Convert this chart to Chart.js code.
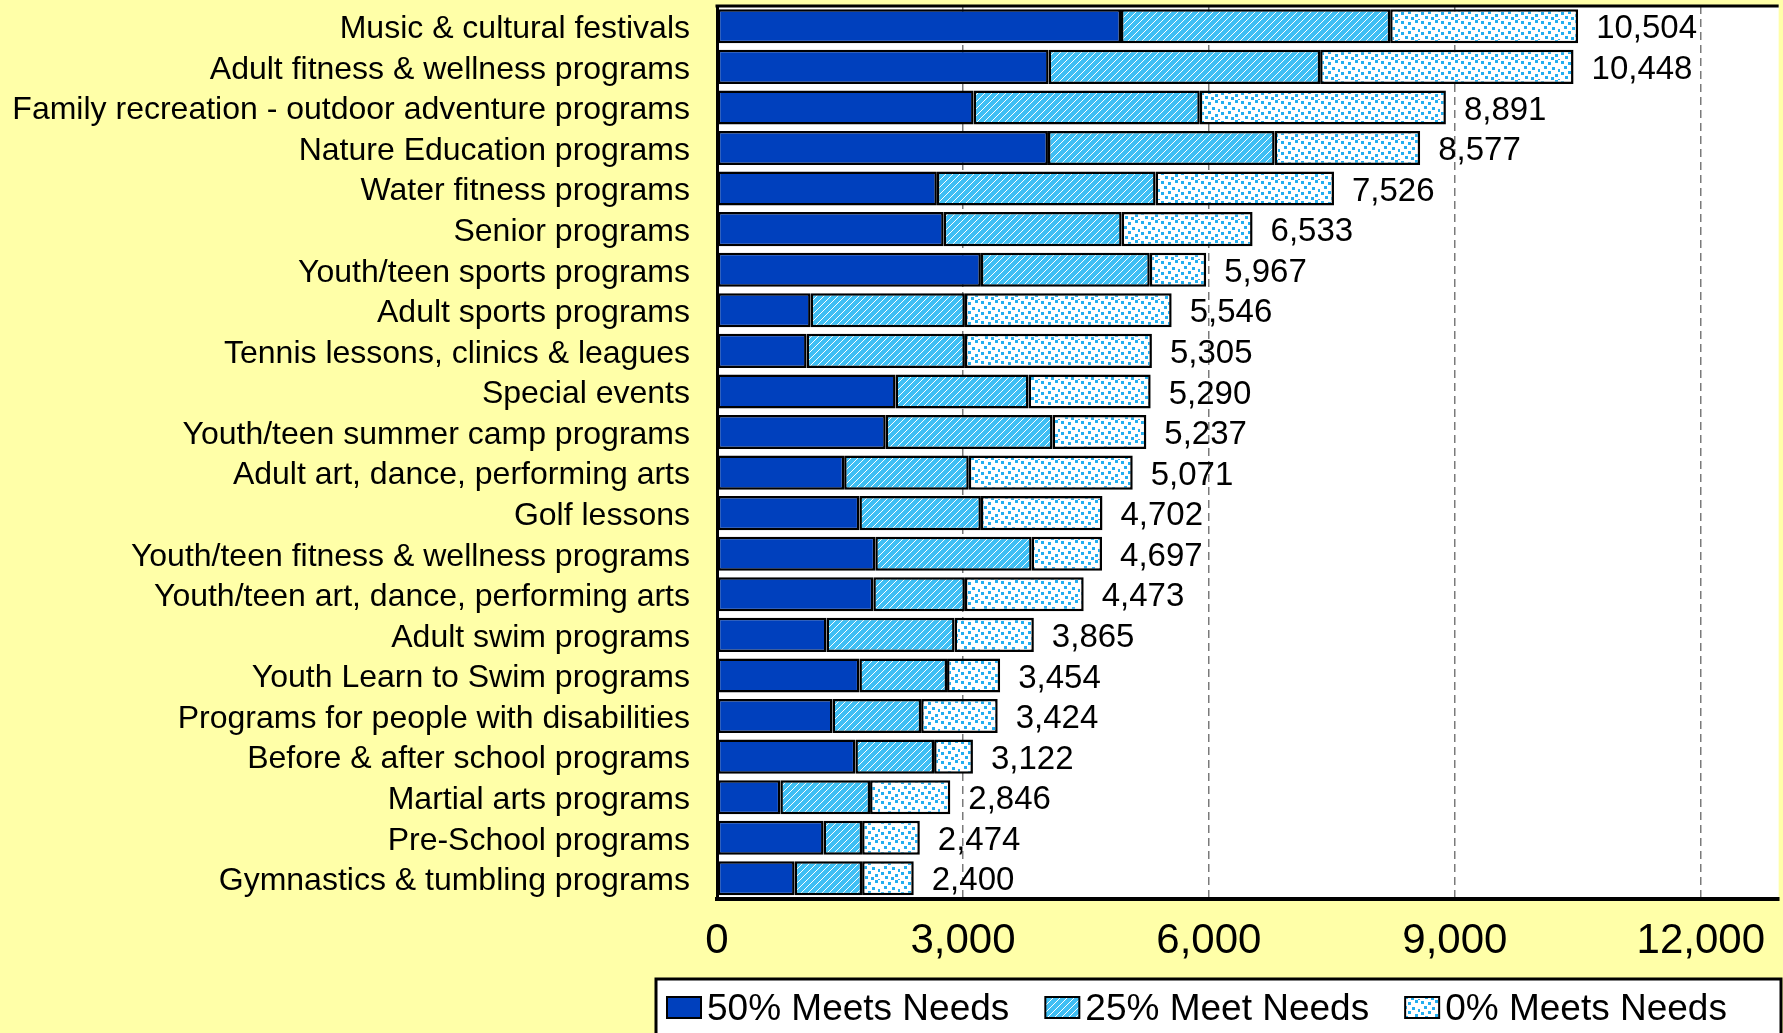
<!DOCTYPE html>
<html>
<head>
<meta charset="utf-8">
<script src="https://cdn.jsdelivr.net/npm/chart.js@4.4.1/dist/chart.umd.min.js"></script>
<style>
    html, body { margin: 0; padding: 0; background: #ffffa8; }
    #wrap { width: 1783px; height: 1033px; }
</style>
</head>
<body>
<div id="wrap"><canvas id="programChart"></canvas></div>
<script>
const programs = [
    'Music & cultural festivals',
    'Adult fitness & wellness programs',
    'Family recreation - outdoor adventure programs',
    'Nature Education programs',
    'Water fitness programs',
    'Senior programs',
    'Youth/teen sports programs',
    'Adult sports programs',
    'Tennis lessons, clinics & leagues',
    'Special events',
    'Youth/teen summer camp programs',
    'Adult art, dance, performing arts',
    'Golf lessons',
    'Youth/teen fitness & wellness programs',
    'Youth/teen art, dance, performing arts',
    'Adult swim programs',
    'Youth Learn to Swim programs',
    'Programs for people with disabilities',
    'Before & after school programs',
    'Martial arts programs',
    'Pre-School programs',
    'Gymnastics & tumbling programs'
];

const meets50 = [4928, 4045, 3130, 4037, 2682, 2765, 3219, 1142, 1093, 2178, 2058,
                 1551, 1737, 1931, 1907, 1336, 1737, 1409, 1688, 773, 1300, 947];
const meet25 = [3283, 3312, 2759, 2765, 2668, 2171, 2060, 1882, 1931, 1622, 2035,
                1520, 1482, 1907, 1117, 1562, 1069, 1081, 960, 1094, 470, 823];
const meets0 = [2293, 3091, 3002, 1775, 2176, 1597, 688, 2522, 2281, 1490, 1144,
                2000, 1483, 859, 1449, 967, 648, 934, 474, 979, 704, 630];
const totals = [10504, 10448, 8891, 8577, 7526, 6533, 5967, 5546, 5305, 5290, 5237,
                5071, 4702, 4697, 4473, 3865, 3454, 3424, 3122, 2846, 2474, 2400];

const xTicks = [0, 3000, 6000, 9000, 12000];
const seriesNames = ['50% Meets Needs', '25% Meet Needs', '0% Meets Needs'];

const fontFamily = '"Liberation Sans", Arial, sans-serif';
const darkBlue = '#0040bd';
const lightBlue = '#3fbff4';

function makeHatch() {
    const c = document.createElement('canvas');
    c.width = 7;
    c.height = 7;
    const g = c.getContext('2d');
    g.fillStyle = lightBlue;
    g.fillRect(0, 0, 7, 7);
    g.strokeStyle = '#ffffff';
    g.lineWidth = 1;
    g.beginPath();
    g.moveTo(0, 7); g.lineTo(7, 0);
    g.moveTo(-7, 7); g.lineTo(7, -7);
    g.moveTo(0, 14); g.lineTo(14, 0);
    g.stroke();
    return g.createPattern(c, 'repeat');
}

function makeDots() {
    const c = document.createElement('canvas');
    c.width = 20;
    c.height = 20;
    const g = c.getContext('2d');
    g.fillStyle = '#ffffff';
    g.fillRect(0, 0, 20, 20);
    g.fillStyle = '#22aef0';
    const spots = [[1, 1], [8, 2], [15, 0], [4, 6], [12, 7], [18, 9],
                   [1, 12], [8, 11], [15, 14], [5, 16], [11, 17], [18, 19]];
    spots.forEach(([x, y]) => g.fillRect(x, y, 3, 3));
    return g.createPattern(c, 'repeat');
}

const hatchFill = makeHatch();
const dotFill = makeDots();
const fills = [darkBlue, hatchFill, dotFill];

// white plot box with a black frame
const plotBox = {
    id: 'plotBox',
    beforeDraw(chart) {
        const { ctx, chartArea: a } = chart;
        ctx.save();
        ctx.fillStyle = '#ffffff';
        ctx.fillRect(a.left, a.top, a.right - a.left, a.bottom - a.top);
        ctx.restore();
    },
    afterDraw(chart) {
        const { ctx, chartArea: a } = chart;
        ctx.save();
        ctx.strokeStyle = '#000000';
        ctx.lineWidth = 3;
        ctx.beginPath();
        ctx.moveTo(a.left - 1.5, a.top);
        ctx.lineTo(a.right, a.top);
        ctx.stroke();
        ctx.restore();
    }
};

// total value next to each bar
const totalLabels = {
    id: 'totalLabels',
    afterDatasetsDraw(chart) {
        const { ctx } = chart;
        const xScale = chart.scales.x;
        const meta = chart.getDatasetMeta(chart.data.datasets.length - 1);
        ctx.save();
        ctx.font = '33px ' + fontFamily;
        ctx.fillStyle = '#000000';
        ctx.textAlign = 'left';
        ctx.textBaseline = 'middle';
        totals.forEach((t, i) => {
            const x = xScale.getPixelForValue(t) + 18;
            ctx.fillText(t.toLocaleString('en-US'), x, meta.data[i].y + 3);
        });
        ctx.restore();
    }
};

// boxed legend along the bottom
const boxLegend = {
    id: 'boxLegend',
    afterDraw(chart) {
        const { ctx } = chart;
        const boxLeft = 656, boxTop = 979;
        ctx.save();
        ctx.fillStyle = '#ffffff';
        ctx.fillRect(boxLeft, boxTop, chart.width - boxLeft - 2, 80);
        ctx.strokeStyle = '#000000';
        ctx.lineWidth = 3;
        ctx.strokeRect(boxLeft, boxTop, chart.width - boxLeft - 2, 80);

        ctx.font = '37px ' + fontFamily;
        ctx.textBaseline = 'middle';
        ctx.textAlign = 'left';
        let x = 667;
        const swY = 997, swW = 34, swH = 21;
        seriesNames.forEach((name, i) => {
            ctx.fillStyle = fills[i];
            ctx.fillRect(x, swY, swW, swH);
            ctx.lineWidth = 2;
            ctx.strokeStyle = '#000000';
            ctx.strokeRect(x, swY, swW, swH);
            ctx.fillStyle = '#000000';
            ctx.fillText(name, x + swW + 6, swY + swH / 2 + 2);
            x += swW + 6 + ctx.measureText(name).width + 36;
        });
        ctx.restore();
    }
};

const datasets = [meets50, meet25, meets0].map((values, i) => ({
    label: seriesNames[i],
    data: values,
    backgroundColor: fills[i],
    borderColor: '#000000',
    borderWidth: 2.5,
    borderSkipped: false,
    barPercentage: 0.84,
    categoryPercentage: 1.0
}));

new Chart(document.getElementById('programChart'), {
    type: 'bar',
    data: {
        labels: programs,
        datasets: datasets
    },
    options: {
        indexAxis: 'y',
        responsive: true,
        maintainAspectRatio: false,
        animation: false,
        layout: {
            padding: { top: 6, right: 0, bottom: 48, left: 0 }
        },
        scales: {
            x: {
                stacked: true,
                min: 0,
                max: 12950,
                afterBuildTicks: (scale) => {
                    scale.ticks = xTicks.map(v => ({ value: v }));
                },
                grid: {
                    color: (ctx) => (ctx.tick && ctx.tick.value === 0) ? 'rgba(0,0,0,0)' : '#7a7a7a',
                    lineWidth: 1.5,
                    drawTicks: false
                },
                border: {
                    display: true,
                    color: '#000000',
                    width: 4,
                    dash: [8, 5]
                },
                ticks: {
                    color: '#000000',
                    padding: 18,
                    font: { family: fontFamily, size: 42 },
                    callback: (v) => Number(v).toLocaleString('en-US')
                }
            },
            y: {
                stacked: true,
                afterFit: (scale) => {
                    scale.width = 717;
                    scale.paddingTop = 0;
                    scale.paddingBottom = 0;
                },
                grid: { display: false, drawTicks: false },
                border: { display: true, color: '#000000', width: 3 },
                ticks: {
                    color: '#000000',
                    padding: 27,
                    labelOffset: 3,
                    autoSkip: false,
                    font: { family: fontFamily, size: 32 }
                }
            }
        },
        plugins: {
            legend: { display: false },
            tooltip: { enabled: false }
        }
    },
    plugins: [plotBox, totalLabels, boxLegend]
});
</script>
</body>
</html>
